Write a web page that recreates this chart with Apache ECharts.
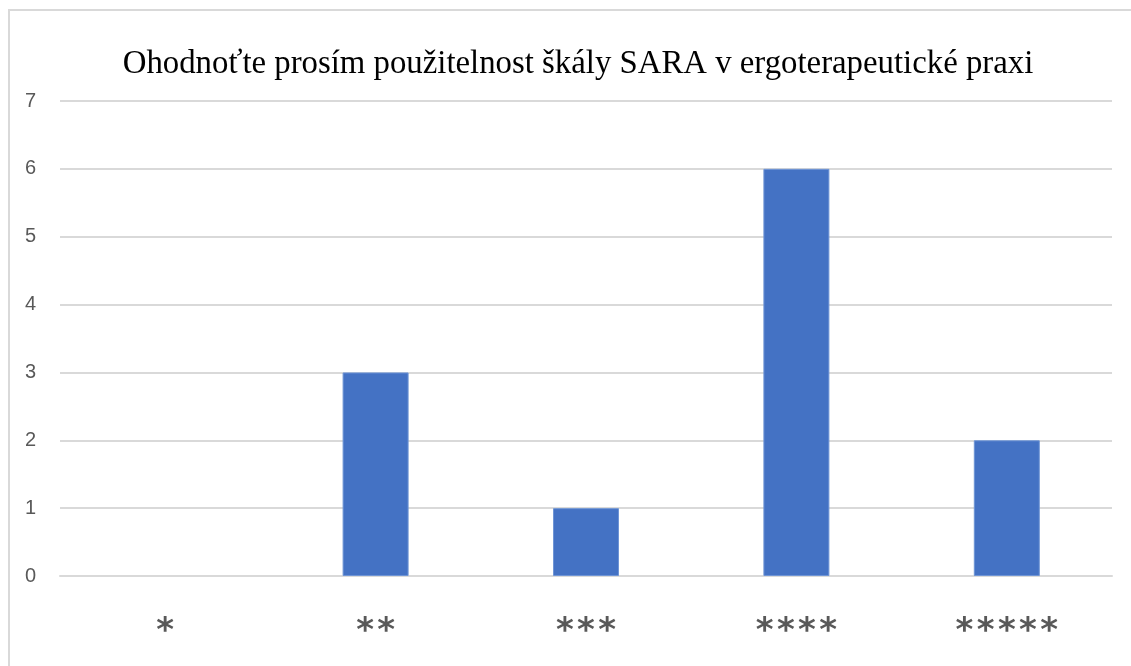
<!DOCTYPE html>
<html>
<head>
<meta charset="utf-8">
<script src="https://cdn.jsdelivr.net/npm/echarts@6/dist/echarts.min.js"></script>
<style>
html,body{margin:0;padding:0;background:#fff;overflow:hidden;}
#frame{position:absolute;left:8px;top:9px;width:1200px;height:700px;border:2px solid #d9d9d9;box-sizing:border-box;}
#chart{position:absolute;left:0;top:0;width:1131px;height:666px;}
</style>
</head>
<body>
<div id="frame"></div>
<div id="chart"></div>
<script>
const titleText = 'Ohodnoťte prosím použitelnost škály SARA v ergoterapeutické praxi';
const categories = ['*', '**', '***', '****', '*****'];
const values = [0, 3, 1, 6, 2];
const yTicks = {min: 0, max: 7, interval: 1};

const chart = echarts.init(document.getElementById('chart'), null, {renderer: 'canvas'});
chart.setOption({
  animation: false,
  backgroundColor: 'transparent',
  title: {
    text: titleText,
    left: 573, top: 43, textAlign: 'center',
    textStyle: {fontFamily: 'Liberation Serif', fontSize: 32.8, fontWeight: 'normal', color: '#000'}
  },
  grid: {left: 60, right: 19, top: 101, bottom: 90, containLabel: false},
  xAxis: {
    type: 'category',
    data: categories,
    axisLine: {show: true, lineStyle: {color: '#d9d9d9', width: 2}},
    axisTick: {show: false},
    axisLabel: {
      margin: 39, color: '#595959', fontFamily: 'DejaVu Sans', fontSize: 34, fontWeight: 'bold',
      formatter: v => v.split('').join('\u200A')
    }
  },
  yAxis: {
    type: 'value',
    min: yTicks.min, max: yTicks.max, interval: yTicks.interval,
    axisLine: {show: false},
    axisTick: {show: false},
    splitLine: {lineStyle: {color: '#d9d9d9', width: 2}},
    axisLabel: {margin: 24, color: '#595959', fontFamily: 'Liberation Sans', fontSize: 20}
  },
  series: [{
    type: 'bar',
    data: values.map(v => v === 0 ? {value: v, itemStyle: {borderWidth: 0, opacity: 0}} : v),
    barWidth: 66,
    itemStyle: {color: '#4472c4', borderColor: '#6f95d6', borderWidth: 1}
  }]
});
</script>
</body>
</html>
